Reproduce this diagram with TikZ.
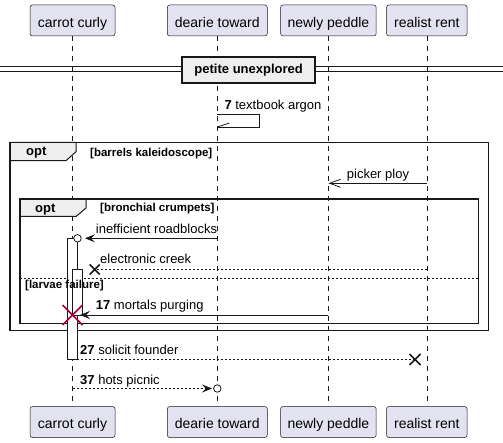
\documentclass[tikz,border=0pt]{standalone}
\usepackage{fontspec}
\setmainfont{Liberation Sans}
\usetikzlibrary{arrows.meta}
\definecolor{partfill}{HTML}{E2E2F0}
\definecolor{ink}{HTML}{181818}
\definecolor{grpfill}{HTML}{EEEEEE}
\definecolor{destroyc}{HTML}{A80036}
\begin{document}
\begin{tikzpicture}[x=1pt,y=-1pt,
 part/.style={draw=ink, line width=0.5pt, fill=partfill, rounded corners=2.5pt, inner sep=0pt, text height=22.3pt, text depth=8.7pt, minimum height=31pt, font=\fontsize{14}{16}\selectfont},
 life/.style={draw=ink, line width=0.5pt, dash pattern=on 5pt off 5pt},
 msg/.style={draw=ink, line width=0.8pt},
 ret/.style={msg, dash pattern=on 2pt off 2pt},
 lbl/.style={anchor=base west, inner sep=0pt, font=\fontsize{13}{15}\selectfont},
 cond/.style={anchor=base west, inner sep=0pt, font=\fontsize{11.5}{13}\selectfont\bfseries},
 grplbl/.style={anchor=base west, inner sep=0pt, font=\fontsize{13}{15}\selectfont\bfseries},
 frame/.style={draw=ink, line width=1.5pt},
 tab/.style={draw=ink, line width=1pt, fill=grpfill},
 act/.style={draw=ink, line width=0.8pt, fill=white},
 head/.style={-{Stealth[length=10pt,width=8pt,inset=4pt]}},
 openhead/.style={-{Straight Barb[length=11pt,width=8pt]}},
 endcirc/.style={circle, draw=ink, line width=0.8pt, fill=white, minimum size=7.5pt, inner sep=0pt},
 crossb/.style={draw=ink, line width=1.5pt},
 crossr/.style={draw=destroyc, line width=1.5pt},
]
\useasboundingbox (0,0) rectangle (503,443);

% participants
\node[part, minimum width=85pt] (cc) at (72.5,20.5) {carrot curly};
\node[part, minimum width=100pt] (dt) at (217.3,20.5) {dearie toward};
\node[part, minimum width=95.6pt] (np) at (328.4,20.5) {newly peddle};
\node[part, minimum width=80.6pt] (rr) at (426.8,20.5) {realist rent};
\node[part, minimum width=85pt] (cc2) at (72.5,422) {carrot curly};
\node[part, minimum width=100pt] (dt2) at (217.3,422) {dearie toward};
\node[part, minimum width=95.6pt] (np2) at (328.4,422) {newly peddle};
\node[part, minimum width=80.6pt] (rr2) at (426.8,422) {realist rent};

% lifelines
\draw[life] (cc.south) -- (cc2.north);
\draw[life] (dt.south) -- (dt2.north);
\draw[life] (np.south) -- (np2.north);
\draw[life] (rr.south) -- (rr2.north);

% divider
\node[draw=ink, line width=2pt, fill=grpfill, minimum width=132.7pt, minimum height=26pt, inner sep=0pt, text height=17.3pt, text depth=8.7pt, font=\fontsize{13}{15}\selectfont\bfseries] (div) at (248.65,69.7) {petite unexplored};
\draw[draw=ink, line width=1pt] (0,66.7) -- (div.west |- 0,66.7) (div.east |- 0,66.7) -- (503,66.7);
\draw[draw=ink, line width=1pt] (0,71.7) -- (div.west |- 0,71.7) (div.east |- 0,71.7) -- (503,71.7);

% self message
\coordinate (s1) at (217.3,114.3);
\coordinate (s2) at (217.3,127);
\draw[msg] (s1) -- (259.3,114.3) -- (259.3,127) -- (s2);
\draw[msg] (s2) -- ++(12,-4);
\node[lbl] (l7) at (224.3,109.3) {\textbf{7} textbook argon};

% outer group
\draw[tab] (10,142.3) -- (76,142.3) -- (76,151.7) -- (66,160.7) -- (10,160.7) -- cycle;
\draw[frame] (10,142.3) rectangle (488.3,330.7);
\node[grplbl] (g1) at (26,156) {opt};
\node[cond] (c1) at (90,156.7) {[barrels kaleidoscope]};

% picker ploy
\coordinate (p1) at (426.7,183.3);
\coordinate (p2) at (328.4,183.3);
\draw[msg, openhead] (p1) -- (p2);
\node[lbl] (lp) at (346.7,178.3) {picker ploy};

% inner group
\draw[tab] (20,199) -- (86,199) -- (86,208) -- (76,216.5) -- (20,216.5) -- cycle;
\draw[frame] (20,199) rectangle (478.3,323.3);
\node[grplbl] (g2) at (35,212.7) {opt};
\node[cond] (c2) at (100,211.7) {[bronchial crumpets]};
\draw[draw=ink, line width=0.8pt, dash pattern=on 2pt off 2pt] (20,278.3) -- (478.3,278.3);

% activations
\draw[act] (67.7,238.3) rectangle (77.3,359.3);
\draw[act] (72.7,269) rectangle (82.3,315);

\node[cond] (c3) at (25,288.3) {[larvae failure]};

% inefficient roadblocks
\node[endcirc] (o1) at (77.5,238.3) {};
\coordinate (i1) at (217.3,238.3);
\coordinate (i2) at (85,238.3);
\draw[msg, head] (i1) -- (i2);
\node[lbl] (li) at (95.7,233.3) {inefficient roadblocks};

% electronic creek
\coordinate (e1) at (426.7,269.5);
\coordinate (x1) at (94.7,269.5);
\draw[ret] (e1) -- (x1);
\draw[crossb] (x1) ++(-5,-5) -- ++(10,10) ++(0,-10) -- ++(-10,10);
\node[lbl] (le) at (100,263.3) {electronic creek};

% mortals purging
\coordinate (m1) at (328.4,315);
\coordinate (m2) at (80,315);
\coordinate (xr) at (72.5,315);
\draw[msg, head] (m1) -- (m2);
\draw[crossr] (xr) ++(-10,-10) -- ++(20,20) ++(0,-20) -- ++(-20,20);
\node[lbl] (lm) at (95.7,309.3) {\textbf{17} mortals purging};

% solicit founder
\coordinate (f1) at (77.3,359.5);
\coordinate (x2) at (415,359.5);
\draw[ret] (f1) -- (x2);
\draw[crossb] (x2) ++(-5.5,-5.5) -- ++(11,11) ++(0,-11) -- ++(-11,11);
\node[lbl] (lf) at (80,354.3) {\textbf{27} solicit founder};

% hots picnic
\coordinate (h1) at (72.5,388.5);
\coordinate (h2) at (212,388.5);
\draw[ret, head] (h1) -- (h2);
\node[endcirc] (o2) at (217.3,388.5) {};
\node[lbl] (lh) at (80,384.3) {\textbf{37} hots picnic};
\end{tikzpicture}
\end{document}
